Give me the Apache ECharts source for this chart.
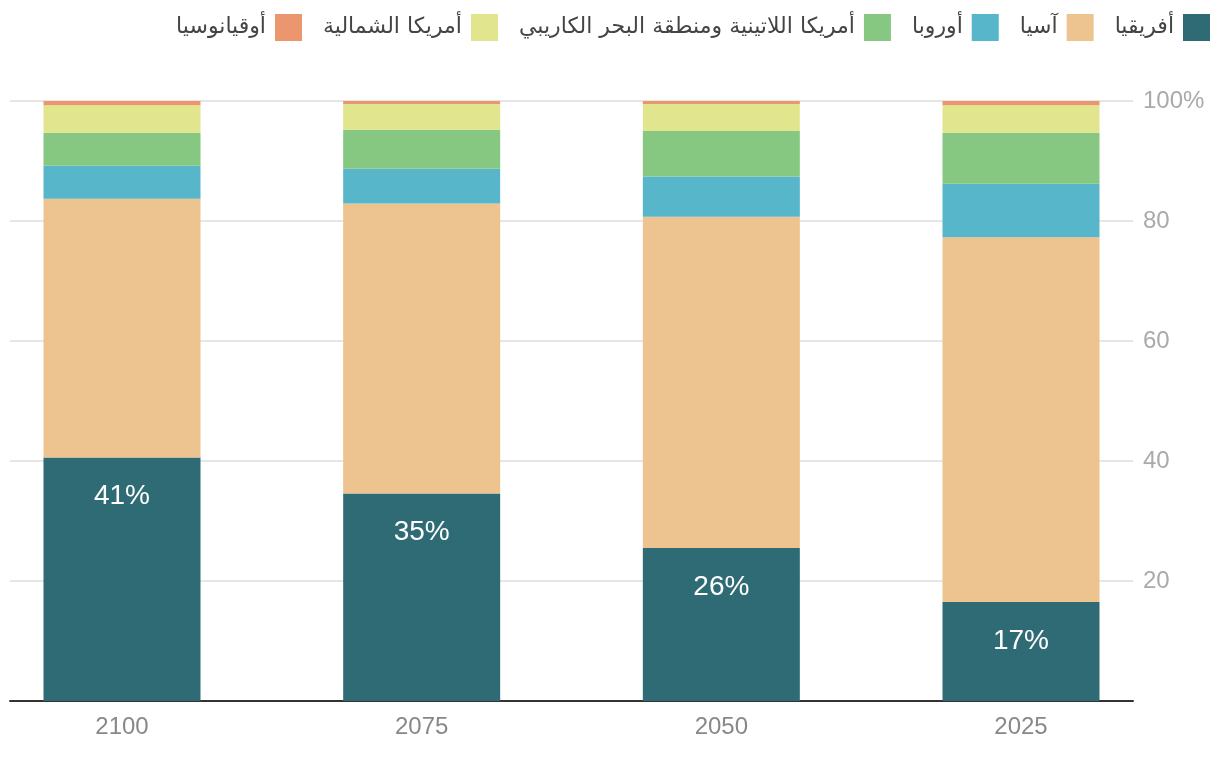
<!DOCTYPE html>
<html><head><meta charset="utf-8">
<script src="https://cdn.jsdelivr.net/npm/echarts@6/dist/echarts.min.js"></script>
<style>html,body{margin:0;padding:0;background:#fff}#c{width:1220px;height:760px}</style>
</head><body><div id="c"></div>
<script>
const categories = ['2100', '2075', '2050', '2025'];
const seriesNames = ['أفريقيا', 'آسيا', 'أوروبا', 'أمريكا اللاتينية ومنطقة البحر الكاريبي', 'أمريكا الشمالية', 'أوقيانوسيا'];
const africa = [40.6, 34.6, 25.5, 16.5];
const asia = [43.1, 48.3, 55.2, 60.8];
const europe = [5.5, 5.8, 6.7, 8.9];
const latam = [5.5, 6.5, 7.6, 8.5];
const northAmerica = [4.6, 4.3, 4.5, 4.6];
const oceania = [0.7, 0.5, 0.5, 0.7];
const africaLabels = ['41%', '35%', '26%', '17%'];
const yTickLabels = {0: '', 20: '20', 40: '40', 60: '60', 80: '80', 100: '100%'};
const colors = ['#2f6b75', '#edc38f', '#57b6c9', '#86c881', '#e1e58d', '#eb966e'];

const values = [africa, asia, europe, latam, northAmerica, oceania];
const font = "'Helvetica Neue', 'Liberation Sans', 'DejaVu Sans', sans-serif";

const chart = echarts.init(document.getElementById('c'));
chart.setOption({
  animation: false,
  textStyle: {fontFamily: font},
  legend: {
    right: 10, top: 14, padding: 0,
    itemWidth: 27, itemHeight: 27, itemGap: 21,
    align: 'right',
    icon: 'rect',
    data: seriesNames.slice().reverse(),
    textStyle: {fontSize: 22, color: '#444', fontFamily: "'DejaVu Sans', sans-serif", padding: [3, 4, 0, 0]}
  },
  grid: [
    {left: 10, right: 87, top: 101, bottom: 59},
    {left: 122, right: 199, top: 101, bottom: 59}
  ],
  xAxis: [
    {
      gridIndex: 0, type: 'category', data: categories,
      axisLine: {lineStyle: {color: '#333', width: 2}},
      axisTick: {show: false}, axisLabel: {show: false}
    },
    {
      gridIndex: 1, type: 'category', data: categories, boundaryGap: false,
      axisLine: {show: false}, axisTick: {show: false},
      axisLabel: {color: '#888', fontSize: 24, margin: 14}
    }
  ],
  yAxis: [
    {
      gridIndex: 0, type: 'value', position: 'right', min: 0, max: 100, interval: 20,
      axisLine: {show: false}, axisTick: {show: false},
      splitLine: {lineStyle: {color: '#e6e6e6', width: 2}},
      axisLabel: {color: '#aaa', fontSize: 24, margin: 10, formatter: v => yTickLabels[v]}
    },
    {
      gridIndex: 1, type: 'value', min: 0, max: 100, interval: 20, show: false
    }
  ],
  series: seriesNames.map((name, i) => ({
    name, type: 'bar', stack: 'total', barWidth: 157,
    xAxisIndex: 1, yAxisIndex: 1, z: 3,
    data: values[i],
    itemStyle: {color: colors[i]},
    label: i === 0 ? {
      show: true, position: 'insideTop', distance: 25, color: '#fff', fontSize: 28,
      formatter: p => africaLabels[p.dataIndex]
    } : {show: false}
  }))
});
</script></body></html>
